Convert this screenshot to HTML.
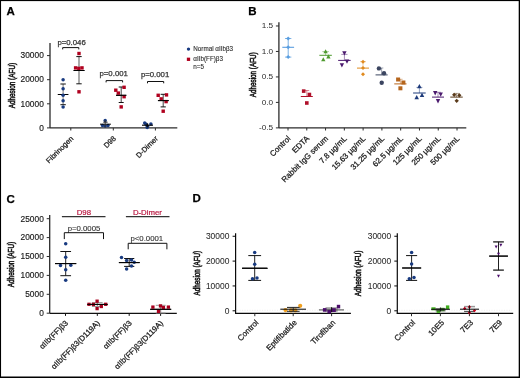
<!DOCTYPE html>
<html><head><meta charset="utf-8"><style>
html,body{margin:0;padding:0;background:#fff;}
body{width:520px;height:378px;overflow:hidden;}
svg{display:block;font-family:"Liberation Sans",sans-serif;will-change:transform;}
</style></head><body>
<svg width="520" height="378" viewBox="0 0 520 378">
<rect x="0" y="0" width="520" height="378" fill="#fff"/>
<text x="6.60" y="15.20" font-size="11.5" text-anchor="start" fill="#000" font-weight="bold" stroke="#000" stroke-width="0.25" >A</text>
<text x="248.30" y="15.00" font-size="11.5" text-anchor="start" fill="#000" font-weight="bold" stroke="#000" stroke-width="0.25" >B</text>
<text x="6.40" y="202.60" font-size="11.5" text-anchor="start" fill="#000" font-weight="bold" stroke="#000" stroke-width="0.25" >C</text>
<text x="192.40" y="202.40" font-size="11.5" text-anchor="start" fill="#000" font-weight="bold" stroke="#000" stroke-width="0.25" >D</text>
<line x1="50.00" y1="43.00" x2="50.00" y2="127.90" stroke="#2b2b2b" stroke-width="1.3" />
<line x1="47.00" y1="127.90" x2="50.00" y2="127.90" stroke="#2b2b2b" stroke-width="1.0" />
<text x="43.80" y="130.60" font-size="8.2" text-anchor="end" fill="#1a1a1a" font-weight="normal" stroke="#1a1a1a" stroke-width="0.15" textLength="4.65" lengthAdjust="spacingAndGlyphs" >0</text>
<line x1="47.00" y1="103.80" x2="50.00" y2="103.80" stroke="#2b2b2b" stroke-width="1.0" />
<text x="43.80" y="106.50" font-size="8.2" text-anchor="end" fill="#1a1a1a" font-weight="normal" stroke="#1a1a1a" stroke-width="0.15" textLength="23.25" lengthAdjust="spacingAndGlyphs" >10000</text>
<line x1="47.00" y1="79.70" x2="50.00" y2="79.70" stroke="#2b2b2b" stroke-width="1.0" />
<text x="43.80" y="82.40" font-size="8.2" text-anchor="end" fill="#1a1a1a" font-weight="normal" stroke="#1a1a1a" stroke-width="0.15" textLength="23.25" lengthAdjust="spacingAndGlyphs" >20000</text>
<line x1="47.00" y1="55.60" x2="50.00" y2="55.60" stroke="#2b2b2b" stroke-width="1.0" />
<text x="43.80" y="58.30" font-size="8.2" text-anchor="end" fill="#1a1a1a" font-weight="normal" stroke="#1a1a1a" stroke-width="0.15" textLength="23.25" lengthAdjust="spacingAndGlyphs" >30000</text>
<line x1="50.00" y1="127.90" x2="177.30" y2="127.90" stroke="#2b2b2b" stroke-width="1.3" />
<line x1="70.80" y1="127.90" x2="70.80" y2="130.50" stroke="#2b2b2b" stroke-width="1.0" />
<line x1="113.30" y1="127.90" x2="113.30" y2="130.50" stroke="#2b2b2b" stroke-width="1.0" />
<line x1="155.40" y1="127.90" x2="155.40" y2="130.50" stroke="#2b2b2b" stroke-width="1.0" />
<text x="0.00" y="0.00" font-size="8.6" text-anchor="middle" fill="#1a1a1a" font-weight="normal" stroke="#1a1a1a" stroke-width="0.6" textLength="45.5" lengthAdjust="spacingAndGlyphs" transform="translate(15.30,85.60) rotate(-90)" >Adhesion (AFU)</text>
<text x="0.00" y="0.00" font-size="7.4" text-anchor="end" fill="#1a1a1a" font-weight="normal" stroke="#1a1a1a" stroke-width="0.25" transform="translate(73.80,139.00) rotate(-45)" >Fibrinogen</text>
<text x="0.00" y="0.00" font-size="7.4" text-anchor="end" fill="#1a1a1a" font-weight="normal" stroke="#1a1a1a" stroke-width="0.25" transform="translate(116.30,139.00) rotate(-45)" >D98</text>
<text x="0.00" y="0.00" font-size="7.4" text-anchor="end" fill="#1a1a1a" font-weight="normal" stroke="#1a1a1a" stroke-width="0.25" transform="translate(158.40,139.00) rotate(-45)" >D-Dimer</text>
<text x="71.60" y="44.80" font-size="7.8" text-anchor="middle" fill="#333" font-weight="normal" stroke="#333" stroke-width="0.25" >p=0.046</text>
<polyline points="62.70,49.40 62.70,47.60 78.80,47.60 78.80,49.40" fill="none" stroke="#111" stroke-width="1.0"/>
<text x="113.70" y="75.70" font-size="7.8" text-anchor="middle" fill="#333" font-weight="normal" stroke="#333" stroke-width="0.25" >p=0.001</text>
<polyline points="106.10,82.40 106.10,80.60 122.60,80.60 122.60,82.40" fill="none" stroke="#111" stroke-width="1.0"/>
<text x="155.10" y="76.60" font-size="7.8" text-anchor="middle" fill="#333" font-weight="normal" stroke="#333" stroke-width="0.25" >p=0.001</text>
<polyline points="147.50,83.30 147.50,81.50 163.70,81.50 163.70,83.30" fill="none" stroke="#111" stroke-width="1.0"/>
<line x1="63.10" y1="84.00" x2="63.10" y2="104.70" stroke="#777" stroke-width="1.0" />
<line x1="60.40" y1="84.00" x2="65.80" y2="84.00" stroke="#111" stroke-width="1.0" />
<line x1="60.40" y1="104.70" x2="65.80" y2="104.70" stroke="#111" stroke-width="1.0" />
<line x1="57.75" y1="94.50" x2="68.45" y2="94.50" stroke="#000" stroke-width="1.0" />
<circle cx="63.10" cy="79.80" r="1.75" fill="#183a80"/>
<circle cx="63.10" cy="88.80" r="1.75" fill="#183a80"/>
<circle cx="63.10" cy="95.20" r="1.75" fill="#183a80"/>
<circle cx="63.10" cy="100.70" r="1.75" fill="#183a80"/>
<circle cx="63.10" cy="106.90" r="1.75" fill="#183a80"/>
<line x1="79.00" y1="56.60" x2="79.00" y2="83.80" stroke="#888" stroke-width="1.4" />
<line x1="76.30" y1="56.60" x2="81.70" y2="56.60" stroke="#111" stroke-width="1.0" />
<line x1="76.30" y1="83.80" x2="81.70" y2="83.80" stroke="#111" stroke-width="1.0" />
<line x1="73.60" y1="70.50" x2="84.40" y2="70.50" stroke="#000" stroke-width="1.0" />
<rect x="77.30" y="51.80" width="3.4" height="3.4" fill="#b0001e"/>
<rect x="73.90" y="66.20" width="3.4" height="3.4" fill="#b0001e"/>
<rect x="77.10" y="66.70" width="3.4" height="3.4" fill="#b0001e"/>
<rect x="80.30" y="66.20" width="3.4" height="3.4" fill="#b0001e"/>
<rect x="77.30" y="90.10" width="3.4" height="3.4" fill="#b0001e"/>
<line x1="73.70" y1="70.50" x2="84.50" y2="70.50" stroke="#000" stroke-width="1.0" />
<circle cx="105.20" cy="120.60" r="1.75" fill="#183a80"/>
<circle cx="102.50" cy="125.60" r="1.75" fill="#183a80"/>
<circle cx="105.20" cy="126.00" r="1.75" fill="#183a80"/>
<circle cx="108.00" cy="125.60" r="1.75" fill="#183a80"/>
<line x1="103.30" y1="122.20" x2="107.60" y2="122.20" stroke="#111" stroke-width="0.9" />
<line x1="100.00" y1="124.20" x2="110.90" y2="124.20" stroke="#000" stroke-width="1.0" />
<line x1="105.20" y1="120.00" x2="105.20" y2="127.50" stroke="#333" stroke-width="0.9" />
<line x1="121.20" y1="87.00" x2="121.20" y2="102.50" stroke="#444" stroke-width="1.0" />
<line x1="118.70" y1="87.00" x2="123.70" y2="87.00" stroke="#111" stroke-width="1.0" />
<line x1="118.70" y1="102.50" x2="123.70" y2="102.50" stroke="#111" stroke-width="1.0" />
<line x1="116.10" y1="95.30" x2="126.30" y2="95.30" stroke="#000" stroke-width="1.0" />
<rect x="114.10" y="88.50" width="3.4" height="3.4" fill="#b0001e"/>
<rect x="116.60" y="91.40" width="3.4" height="3.4" fill="#b0001e"/>
<rect x="122.40" y="85.60" width="3.4" height="3.4" fill="#b0001e"/>
<rect x="122.40" y="95.00" width="3.4" height="3.4" fill="#b0001e"/>
<rect x="119.50" y="105.20" width="3.4" height="3.4" fill="#b0001e"/>
<line x1="116.10" y1="95.30" x2="126.30" y2="95.30" stroke="#000" stroke-width="1.0" />
<circle cx="144.70" cy="122.90" r="1.75" fill="#183a80"/>
<circle cx="146.20" cy="124.20" r="1.75" fill="#183a80"/>
<circle cx="150.90" cy="124.00" r="1.75" fill="#183a80"/>
<circle cx="147.50" cy="126.30" r="1.75" fill="#183a80"/>
<circle cx="147.20" cy="127.60" r="1.75" fill="#183a80"/>
<line x1="147.40" y1="123.50" x2="147.40" y2="127.50" stroke="#111" stroke-width="1.6" />
<line x1="142.00" y1="125.20" x2="153.00" y2="125.20" stroke="#000" stroke-width="1.1" />
<line x1="163.20" y1="94.30" x2="163.20" y2="106.90" stroke="#444" stroke-width="1.0" />
<line x1="160.60" y1="94.30" x2="165.80" y2="94.30" stroke="#111" stroke-width="1.0" />
<line x1="160.60" y1="106.90" x2="165.80" y2="106.90" stroke="#111" stroke-width="1.0" />
<line x1="157.90" y1="100.60" x2="168.50" y2="100.60" stroke="#000" stroke-width="1.0" />
<rect x="156.50" y="93.60" width="3.4" height="3.4" fill="#b0001e"/>
<rect x="164.80" y="93.20" width="3.4" height="3.4" fill="#b0001e"/>
<rect x="159.50" y="97.20" width="3.4" height="3.4" fill="#b0001e"/>
<rect x="164.40" y="99.90" width="3.4" height="3.4" fill="#b0001e"/>
<rect x="161.50" y="109.50" width="3.4" height="3.4" fill="#b0001e"/>
<line x1="158.20" y1="100.60" x2="168.80" y2="100.60" stroke="#000" stroke-width="1.0" />
<circle cx="188.50" cy="49.10" r="1.7" fill="#183a80"/>
<rect x="186.85" y="57.65" width="3.3" height="3.3" fill="#b0001e"/>
<text x="193.30" y="50.90" font-size="6.3" text-anchor="start" fill="#2a2a2a" font-weight="normal" stroke="#2a2a2a" stroke-width="0.1" >Normal &#945;IIb&#946;3</text>
<text x="193.30" y="61.00" font-size="6.3" text-anchor="start" fill="#2a2a2a" font-weight="normal" stroke="#2a2a2a" stroke-width="0.1" >&#945;IIb(FF)&#946;3</text>
<text x="193.30" y="68.90" font-size="6.3" text-anchor="start" fill="#2a2a2a" font-weight="normal" stroke="#2a2a2a" stroke-width="0.1" >n=5</text>
<line x1="278.90" y1="22.20" x2="278.90" y2="127.90" stroke="#2b2b2b" stroke-width="1.3" />
<line x1="275.90" y1="25.97" x2="278.90" y2="25.97" stroke="#2b2b2b" stroke-width="1.0" />
<text x="273.10" y="28.37" font-size="7.6" text-anchor="end" fill="#2a2a2a" font-weight="normal" textLength="11.41" lengthAdjust="spacingAndGlyphs" >1.5</text>
<line x1="275.90" y1="51.45" x2="278.90" y2="51.45" stroke="#2b2b2b" stroke-width="1.0" />
<text x="273.10" y="53.85" font-size="7.6" text-anchor="end" fill="#2a2a2a" font-weight="normal" textLength="11.41" lengthAdjust="spacingAndGlyphs" >1.0</text>
<line x1="275.90" y1="76.93" x2="278.90" y2="76.93" stroke="#2b2b2b" stroke-width="1.0" />
<text x="273.10" y="79.33" font-size="7.6" text-anchor="end" fill="#2a2a2a" font-weight="normal" textLength="11.41" lengthAdjust="spacingAndGlyphs" >0.5</text>
<line x1="275.90" y1="102.40" x2="278.90" y2="102.40" stroke="#2b2b2b" stroke-width="1.0" />
<text x="273.10" y="104.80" font-size="7.6" text-anchor="end" fill="#2a2a2a" font-weight="normal" textLength="11.41" lengthAdjust="spacingAndGlyphs" >0.0</text>
<line x1="275.90" y1="127.88" x2="278.90" y2="127.88" stroke="#2b2b2b" stroke-width="1.0" />
<text x="273.10" y="130.28" font-size="7.6" text-anchor="end" fill="#2a2a2a" font-weight="normal" textLength="14.14" lengthAdjust="spacingAndGlyphs" >-0.5</text>
<line x1="278.90" y1="127.90" x2="466.30" y2="127.90" stroke="#2b2b2b" stroke-width="1.3" />
<line x1="288.00" y1="127.90" x2="288.00" y2="130.50" stroke="#2b2b2b" stroke-width="1.0" />
<line x1="306.78" y1="127.90" x2="306.78" y2="130.50" stroke="#2b2b2b" stroke-width="1.0" />
<line x1="325.56" y1="127.90" x2="325.56" y2="130.50" stroke="#2b2b2b" stroke-width="1.0" />
<line x1="344.34" y1="127.90" x2="344.34" y2="130.50" stroke="#2b2b2b" stroke-width="1.0" />
<line x1="363.12" y1="127.90" x2="363.12" y2="130.50" stroke="#2b2b2b" stroke-width="1.0" />
<line x1="381.90" y1="127.90" x2="381.90" y2="130.50" stroke="#2b2b2b" stroke-width="1.0" />
<line x1="400.68" y1="127.90" x2="400.68" y2="130.50" stroke="#2b2b2b" stroke-width="1.0" />
<line x1="419.46" y1="127.90" x2="419.46" y2="130.50" stroke="#2b2b2b" stroke-width="1.0" />
<line x1="438.24" y1="127.90" x2="438.24" y2="130.50" stroke="#2b2b2b" stroke-width="1.0" />
<line x1="457.02" y1="127.90" x2="457.02" y2="130.50" stroke="#2b2b2b" stroke-width="1.0" />
<text x="0.00" y="0.00" font-size="8.6" text-anchor="middle" fill="#1a1a1a" font-weight="normal" stroke="#1a1a1a" stroke-width="0.6" textLength="45" lengthAdjust="spacingAndGlyphs" transform="translate(256.00,74.80) rotate(-90)" >Adhesion (AFU)</text>
<text x="0.00" y="0.00" font-size="7.9" text-anchor="end" fill="#1a1a1a" font-weight="normal" stroke="#1a1a1a" stroke-width="0.25" transform="translate(291.00,139.10) rotate(-45)" >Control</text>
<text x="0.00" y="0.00" font-size="7.9" text-anchor="end" fill="#1a1a1a" font-weight="normal" stroke="#1a1a1a" stroke-width="0.25" transform="translate(309.78,139.10) rotate(-45)" >EDTA</text>
<text x="0.00" y="0.00" font-size="7.9" text-anchor="end" fill="#1a1a1a" font-weight="normal" stroke="#1a1a1a" stroke-width="0.25" transform="translate(328.56,139.10) rotate(-45)" >Rabbit IgG serum</text>
<text x="0.00" y="0.00" font-size="7.9" text-anchor="end" fill="#1a1a1a" font-weight="normal" stroke="#1a1a1a" stroke-width="0.25" transform="translate(347.34,139.10) rotate(-45)" >7.8 &#181;g/mL</text>
<text x="0.00" y="0.00" font-size="7.9" text-anchor="end" fill="#1a1a1a" font-weight="normal" stroke="#1a1a1a" stroke-width="0.25" transform="translate(366.12,139.10) rotate(-45)" >15.63 &#181;g/mL</text>
<text x="0.00" y="0.00" font-size="7.9" text-anchor="end" fill="#1a1a1a" font-weight="normal" stroke="#1a1a1a" stroke-width="0.25" transform="translate(384.90,139.10) rotate(-45)" >31.25 &#181;g/mL</text>
<text x="0.00" y="0.00" font-size="7.9" text-anchor="end" fill="#1a1a1a" font-weight="normal" stroke="#1a1a1a" stroke-width="0.25" transform="translate(403.68,139.10) rotate(-45)" >62.5 &#181;g/mL</text>
<text x="0.00" y="0.00" font-size="7.9" text-anchor="end" fill="#1a1a1a" font-weight="normal" stroke="#1a1a1a" stroke-width="0.25" transform="translate(422.46,139.10) rotate(-45)" >125 &#181;g/mL</text>
<text x="0.00" y="0.00" font-size="7.9" text-anchor="end" fill="#1a1a1a" font-weight="normal" stroke="#1a1a1a" stroke-width="0.25" transform="translate(441.24,139.10) rotate(-45)" >250 &#181;g/mL</text>
<text x="0.00" y="0.00" font-size="7.9" text-anchor="end" fill="#1a1a1a" font-weight="normal" stroke="#1a1a1a" stroke-width="0.25" transform="translate(460.02,139.10) rotate(-45)" >500 &#181;g/mL</text>
<line x1="288.20" y1="38.50" x2="288.20" y2="57.10" stroke="#5a9ee0" stroke-width="1.0" stroke-opacity="0.8"/>
<line x1="285.05" y1="38.50" x2="291.35" y2="38.50" stroke="#5a9ee0" stroke-width="1.0" stroke-opacity="0.8"/>
<line x1="285.05" y1="57.10" x2="291.35" y2="57.10" stroke="#5a9ee0" stroke-width="1.0" stroke-opacity="0.8"/>
<line x1="282.30" y1="47.30" x2="294.10" y2="47.30" stroke="#5a9ee0" stroke-width="1.1" />
<polygon points="288.20,36.50 290.20,38.50 288.20,40.50 286.20,38.50" fill="#5a9ee0"/>
<polygon points="288.20,45.30 290.20,47.30 288.20,49.30 286.20,47.30" fill="#5a9ee0"/>
<polygon points="288.20,55.10 290.20,57.10 288.20,59.10 286.20,57.10" fill="#5a9ee0"/>
<line x1="306.80" y1="90.50" x2="306.80" y2="96.50" stroke="#b0102a" stroke-width="0.9" stroke-opacity="0.55"/>
<line x1="304.40" y1="90.50" x2="309.20" y2="90.50" stroke="#b0102a" stroke-width="0.9" stroke-opacity="0.55"/>
<line x1="300.80" y1="96.50" x2="312.80" y2="96.50" stroke="#b0102a" stroke-width="1.0" />
<rect x="301.90" y="89.30" width="3.6" height="3.6" fill="#b0102a"/>
<rect x="307.60" y="92.70" width="3.6" height="3.6" fill="#b0102a"/>
<rect x="305.00" y="101.20" width="3.6" height="3.6" fill="#b0102a"/>
<line x1="325.60" y1="51.60" x2="325.60" y2="55.30" stroke="#4e9a2e" stroke-width="0.9" stroke-opacity="0.55"/>
<line x1="322.35" y1="51.60" x2="328.85" y2="51.60" stroke="#4e9a2e" stroke-width="0.9" stroke-opacity="0.55"/>
<line x1="319.35" y1="55.30" x2="331.85" y2="55.30" stroke="#4e9a2e" stroke-width="1.0" />
<polygon points="325.60,49.16 323.45,53.34 327.75,53.34" fill="#4e9a2e"/>
<polygon points="328.40,54.27 326.25,58.44 330.55,58.44" fill="#4e9a2e"/>
<polygon points="323.30,57.16 321.15,61.34 325.45,61.34" fill="#4e9a2e"/>
<line x1="344.40" y1="54.40" x2="344.40" y2="60.40" stroke="#4b1a6e" stroke-width="0.9" stroke-opacity="0.55"/>
<line x1="341.30" y1="54.40" x2="347.50" y2="54.40" stroke="#4b1a6e" stroke-width="0.9" stroke-opacity="0.55"/>
<line x1="338.15" y1="60.40" x2="350.65" y2="60.40" stroke="#4b1a6e" stroke-width="1.0" />
<polygon points="344.40,55.58 342.20,51.32 346.60,51.32" fill="#4b1a6e"/>
<polygon points="347.00,63.78 344.80,59.52 349.20,59.52" fill="#4b1a6e"/>
<polygon points="341.90,67.48 339.70,63.22 344.10,63.22" fill="#4b1a6e"/>
<line x1="363.00" y1="61.70" x2="363.00" y2="68.10" stroke="#e08a1e" stroke-width="0.9" stroke-opacity="0.55"/>
<line x1="360.00" y1="61.70" x2="366.00" y2="61.70" stroke="#e08a1e" stroke-width="0.9" stroke-opacity="0.55"/>
<line x1="357.00" y1="68.10" x2="369.00" y2="68.10" stroke="#e08a1e" stroke-width="1.0" />
<polygon points="363.00,59.70 365.00,61.70 363.00,63.70 361.00,61.70" fill="#e08a1e"/>
<polygon points="363.00,66.10 365.00,68.10 363.00,70.10 361.00,68.10" fill="#e08a1e"/>
<polygon points="363.00,72.20 365.00,74.20 363.00,76.20 361.00,74.20" fill="#e08a1e"/>
<line x1="381.60" y1="68.00" x2="381.60" y2="74.90" stroke="#3b4560" stroke-width="0.9" stroke-opacity="0.55"/>
<line x1="379.85" y1="68.00" x2="383.35" y2="68.00" stroke="#3b4560" stroke-width="0.9" stroke-opacity="0.55"/>
<line x1="375.55" y1="74.90" x2="387.65" y2="74.90" stroke="#3b4560" stroke-width="1.0" />
<circle cx="378.90" cy="68.40" r="2.2" fill="#3b4560"/>
<circle cx="384.00" cy="73.30" r="2.2" fill="#3b4560"/>
<circle cx="381.70" cy="82.80" r="2.2" fill="#3b4560"/>
<line x1="400.40" y1="79.30" x2="400.40" y2="83.90" stroke="#b5651d" stroke-width="0.9" stroke-opacity="0.55"/>
<line x1="398.20" y1="79.30" x2="402.60" y2="79.30" stroke="#b5651d" stroke-width="0.9" stroke-opacity="0.55"/>
<line x1="394.25" y1="83.90" x2="406.55" y2="83.90" stroke="#b5651d" stroke-width="1.0" />
<rect x="396.10" y="77.50" width="4.0" height="4.0" fill="#b5651d"/>
<rect x="401.40" y="80.50" width="4.0" height="4.0" fill="#b5651d"/>
<rect x="398.40" y="86.30" width="4.0" height="4.0" fill="#b5651d"/>
<line x1="419.40" y1="87.40" x2="419.40" y2="93.00" stroke="#1d3a7a" stroke-width="0.9" stroke-opacity="0.55"/>
<line x1="416.40" y1="87.40" x2="422.40" y2="87.40" stroke="#1d3a7a" stroke-width="0.9" stroke-opacity="0.55"/>
<line x1="413.10" y1="93.00" x2="425.70" y2="93.00" stroke="#1d3a7a" stroke-width="1.0" />
<polygon points="419.40,83.88 417.15,88.23 421.65,88.23" fill="#1d3a7a"/>
<polygon points="422.00,92.67 419.75,97.03 424.25,97.03" fill="#1d3a7a"/>
<polygon points="416.70,94.97 414.45,99.33 418.95,99.33" fill="#1d3a7a"/>
<line x1="438.00" y1="92.30" x2="438.00" y2="97.10" stroke="#4b1a6e" stroke-width="0.9" stroke-opacity="0.55"/>
<line x1="435.00" y1="92.30" x2="441.00" y2="92.30" stroke="#4b1a6e" stroke-width="0.9" stroke-opacity="0.55"/>
<line x1="432.00" y1="97.10" x2="444.00" y2="97.10" stroke="#4b1a6e" stroke-width="1.0" />
<polygon points="435.20,95.38 433.00,91.12 437.40,91.12" fill="#4b1a6e"/>
<polygon points="440.70,96.68 438.50,92.42 442.90,92.42" fill="#4b1a6e"/>
<polygon points="438.00,103.38 435.80,99.12 440.20,99.12" fill="#4b1a6e"/>
<line x1="456.50" y1="93.40" x2="456.50" y2="97.10" stroke="#5a3a1a" stroke-width="0.9" stroke-opacity="0.55"/>
<line x1="453.50" y1="93.40" x2="459.50" y2="93.40" stroke="#5a3a1a" stroke-width="0.9" stroke-opacity="0.55"/>
<line x1="450.25" y1="97.10" x2="462.75" y2="97.10" stroke="#5a3a1a" stroke-width="1.0" />
<polygon points="454.20,92.65 456.35,94.80 454.20,96.95 452.05,94.80" fill="#5a3a1a"/>
<polygon points="459.30,93.15 461.45,95.30 459.30,97.45 457.15,95.30" fill="#5a3a1a"/>
<polygon points="456.70,98.65 458.85,100.80 456.70,102.95 454.55,100.80" fill="#5a3a1a"/>
<line x1="49.70" y1="215.00" x2="49.70" y2="313.20" stroke="#2b2b2b" stroke-width="1.3" />
<line x1="46.70" y1="313.20" x2="49.70" y2="313.20" stroke="#2b2b2b" stroke-width="1.0" />
<text x="43.80" y="316.00" font-size="8.2" text-anchor="end" fill="#1a1a1a" font-weight="normal" stroke="#1a1a1a" stroke-width="0.15" textLength="4.65" lengthAdjust="spacingAndGlyphs" >0</text>
<line x1="46.70" y1="294.30" x2="49.70" y2="294.30" stroke="#2b2b2b" stroke-width="1.0" />
<text x="43.80" y="297.10" font-size="8.2" text-anchor="end" fill="#1a1a1a" font-weight="normal" stroke="#1a1a1a" stroke-width="0.15" textLength="18.6" lengthAdjust="spacingAndGlyphs" >5000</text>
<line x1="46.70" y1="275.40" x2="49.70" y2="275.40" stroke="#2b2b2b" stroke-width="1.0" />
<text x="43.80" y="278.20" font-size="8.2" text-anchor="end" fill="#1a1a1a" font-weight="normal" stroke="#1a1a1a" stroke-width="0.15" textLength="23.25" lengthAdjust="spacingAndGlyphs" >10000</text>
<line x1="46.70" y1="256.50" x2="49.70" y2="256.50" stroke="#2b2b2b" stroke-width="1.0" />
<text x="43.80" y="259.30" font-size="8.2" text-anchor="end" fill="#1a1a1a" font-weight="normal" stroke="#1a1a1a" stroke-width="0.15" textLength="23.25" lengthAdjust="spacingAndGlyphs" >15000</text>
<line x1="46.70" y1="237.60" x2="49.70" y2="237.60" stroke="#2b2b2b" stroke-width="1.0" />
<text x="43.80" y="240.40" font-size="8.2" text-anchor="end" fill="#1a1a1a" font-weight="normal" stroke="#1a1a1a" stroke-width="0.15" textLength="23.25" lengthAdjust="spacingAndGlyphs" >20000</text>
<line x1="46.70" y1="218.70" x2="49.70" y2="218.70" stroke="#2b2b2b" stroke-width="1.0" />
<text x="43.80" y="221.50" font-size="8.2" text-anchor="end" fill="#1a1a1a" font-weight="normal" stroke="#1a1a1a" stroke-width="0.15" textLength="23.25" lengthAdjust="spacingAndGlyphs" >25000</text>
<line x1="49.70" y1="313.30" x2="176.80" y2="313.30" stroke="#111" stroke-width="1.15" />
<line x1="65.50" y1="313.30" x2="65.50" y2="315.90" stroke="#111" stroke-width="1.0" />
<line x1="97.30" y1="313.30" x2="97.30" y2="315.90" stroke="#111" stroke-width="1.0" />
<line x1="129.20" y1="313.30" x2="129.20" y2="315.90" stroke="#111" stroke-width="1.0" />
<line x1="160.60" y1="313.30" x2="160.60" y2="315.90" stroke="#111" stroke-width="1.0" />
<text x="0.00" y="0.00" font-size="8.6" text-anchor="middle" fill="#1a1a1a" font-weight="normal" stroke="#1a1a1a" stroke-width="0.6" textLength="45.5" lengthAdjust="spacingAndGlyphs" transform="translate(13.70,264.50) rotate(-90)" >Adhesion (AFU)</text>
<text x="0.00" y="0.00" font-size="7.8" text-anchor="end" fill="#1a1a1a" font-weight="normal" stroke="#1a1a1a" stroke-width="0.25" transform="translate(68.50,323.60) rotate(-45)" >&#945;IIb(FF)&#946;3</text>
<text x="0.00" y="0.00" font-size="7.8" text-anchor="end" fill="#1a1a1a" font-weight="normal" stroke="#1a1a1a" stroke-width="0.25" transform="translate(100.30,323.60) rotate(-45)" >&#945;IIb(FF)&#946;3(D119A)</text>
<text x="0.00" y="0.00" font-size="7.8" text-anchor="end" fill="#1a1a1a" font-weight="normal" stroke="#1a1a1a" stroke-width="0.25" transform="translate(132.20,323.60) rotate(-45)" >&#945;IIb(FF)&#946;3</text>
<text x="0.00" y="0.00" font-size="7.8" text-anchor="end" fill="#1a1a1a" font-weight="normal" stroke="#1a1a1a" stroke-width="0.25" transform="translate(163.60,323.60) rotate(-45)" >&#945;IIb(FF)&#946;3(D119A)</text>
<text x="83.90" y="214.90" font-size="7.8" text-anchor="middle" fill="#b8143e" font-weight="normal" stroke="#b8143e" stroke-width="0.2" >D98</text>
<line x1="61.90" y1="216.60" x2="105.50" y2="216.60" stroke="#333" stroke-width="1.1" />
<text x="147.40" y="214.90" font-size="7.8" text-anchor="middle" fill="#b8143e" font-weight="normal" stroke="#b8143e" stroke-width="0.2" >D-Dimer</text>
<line x1="125.90" y1="216.60" x2="169.50" y2="216.60" stroke="#333" stroke-width="1.1" />
<text x="84.00" y="231.40" font-size="7.8" text-anchor="middle" fill="#333" font-weight="normal" stroke="#333" stroke-width="0.12" >p=0.0005</text>
<polyline points="64.30,239.10 64.30,232.70 103.50,232.70 103.50,239.10" fill="none" stroke="#111" stroke-width="1.0"/>
<text x="146.80" y="241.30" font-size="7.8" text-anchor="middle" fill="#333" font-weight="normal" stroke="#333" stroke-width="0.12" >p&lt;0.0001</text>
<polyline points="128.20,249.30 128.20,243.30 166.90,243.30 166.90,249.30" fill="none" stroke="#111" stroke-width="1.0"/>
<line x1="65.70" y1="251.50" x2="65.70" y2="275.70" stroke="#222" stroke-width="1.0" />
<line x1="60.35" y1="251.50" x2="71.05" y2="251.50" stroke="#111" stroke-width="1.0" />
<line x1="60.35" y1="275.70" x2="71.05" y2="275.70" stroke="#111" stroke-width="1.0" />
<line x1="55.10" y1="263.60" x2="76.30" y2="263.60" stroke="#000" stroke-width="1.0" />
<circle cx="65.70" cy="243.80" r="1.75" fill="#183a80"/>
<circle cx="65.70" cy="257.30" r="1.75" fill="#183a80"/>
<circle cx="60.50" cy="265.60" r="1.75" fill="#183a80"/>
<circle cx="70.80" cy="265.20" r="1.75" fill="#183a80"/>
<circle cx="65.70" cy="269.80" r="1.75" fill="#183a80"/>
<circle cx="65.70" cy="280.20" r="1.75" fill="#183a80"/>
<line x1="55.00" y1="263.60" x2="76.20" y2="263.60" stroke="#000" stroke-width="1.0" />
<line x1="97.30" y1="302.60" x2="97.30" y2="306.50" stroke="#888" stroke-width="1.0" />
<line x1="91.95" y1="302.60" x2="102.65" y2="302.60" stroke="#999" stroke-width="1.0" />
<line x1="91.95" y1="306.50" x2="102.65" y2="306.50" stroke="#999" stroke-width="1.0" />
<line x1="87.10" y1="304.40" x2="107.50" y2="304.40" stroke="#000" stroke-width="1.0" />
<rect x="87.35" y="302.65" width="3.3" height="3.3" fill="#a8001e"/>
<rect x="91.75" y="302.75" width="3.3" height="3.3" fill="#a8001e"/>
<rect x="95.45" y="299.55" width="3.3" height="3.3" fill="#a8001e"/>
<rect x="99.65" y="304.85" width="3.3" height="3.3" fill="#a8001e"/>
<rect x="104.05" y="302.65" width="3.3" height="3.3" fill="#a8001e"/>
<rect x="95.45" y="306.95" width="3.3" height="3.3" fill="#a8001e"/>
<line x1="87.40" y1="304.40" x2="107.80" y2="304.40" stroke="#000" stroke-width="1.0" />
<line x1="129.20" y1="258.50" x2="129.20" y2="266.40" stroke="#222" stroke-width="1.0" />
<line x1="124.10" y1="258.50" x2="134.30" y2="258.50" stroke="#111" stroke-width="1.0" />
<line x1="124.10" y1="266.40" x2="134.30" y2="266.40" stroke="#111" stroke-width="1.0" />
<line x1="118.80" y1="262.60" x2="139.60" y2="262.60" stroke="#000" stroke-width="1.0" />
<circle cx="121.50" cy="257.60" r="1.75" fill="#183a80"/>
<circle cx="126.60" cy="260.60" r="1.75" fill="#183a80"/>
<circle cx="131.50" cy="259.90" r="1.75" fill="#183a80"/>
<circle cx="134.20" cy="262.20" r="1.75" fill="#183a80"/>
<circle cx="131.50" cy="265.90" r="1.75" fill="#183a80"/>
<circle cx="126.60" cy="269.00" r="1.75" fill="#183a80"/>
<line x1="119.00" y1="262.60" x2="139.80" y2="262.60" stroke="#000" stroke-width="1.0" />
<line x1="160.70" y1="305.30" x2="160.70" y2="313.00" stroke="#888" stroke-width="1.0" />
<line x1="155.75" y1="305.30" x2="165.65" y2="305.30" stroke="#999" stroke-width="1.0" />
<line x1="155.75" y1="313.00" x2="165.65" y2="313.00" stroke="#999" stroke-width="1.0" />
<line x1="150.20" y1="309.30" x2="171.20" y2="309.30" stroke="#000" stroke-width="1.0" />
<rect x="151.25" y="305.45" width="3.3" height="3.3" fill="#a8001e"/>
<rect x="158.85" y="304.25" width="3.3" height="3.3" fill="#a8001e"/>
<rect x="161.75" y="305.85" width="3.3" height="3.3" fill="#a8001e"/>
<rect x="166.75" y="305.45" width="3.3" height="3.3" fill="#a8001e"/>
<rect x="156.85" y="309.75" width="3.3" height="3.3" fill="#a8001e"/>
<line x1="150.20" y1="309.30" x2="171.20" y2="309.30" stroke="#000" stroke-width="1.0" />
<line x1="235.60" y1="233.20" x2="235.60" y2="313.40" stroke="#0a0a0a" stroke-width="1.2" />
<line x1="232.60" y1="310.80" x2="235.60" y2="310.80" stroke="#0a0a0a" stroke-width="1.0" />
<text x="229.40" y="313.60" font-size="8.2" text-anchor="end" fill="#2a2a2a" font-weight="normal" stroke="#2a2a2a" stroke-width="0.05" textLength="4.7" lengthAdjust="spacingAndGlyphs" >0</text>
<line x1="232.60" y1="285.95" x2="235.60" y2="285.95" stroke="#0a0a0a" stroke-width="1.0" />
<text x="229.40" y="288.75" font-size="8.2" text-anchor="end" fill="#2a2a2a" font-weight="normal" stroke="#2a2a2a" stroke-width="0.05" textLength="23.48" lengthAdjust="spacingAndGlyphs" >10000</text>
<line x1="232.60" y1="261.10" x2="235.60" y2="261.10" stroke="#0a0a0a" stroke-width="1.0" />
<text x="229.40" y="263.90" font-size="8.2" text-anchor="end" fill="#2a2a2a" font-weight="normal" stroke="#2a2a2a" stroke-width="0.05" textLength="23.48" lengthAdjust="spacingAndGlyphs" >20000</text>
<line x1="232.60" y1="236.25" x2="235.60" y2="236.25" stroke="#0a0a0a" stroke-width="1.0" />
<text x="229.40" y="239.05" font-size="8.2" text-anchor="end" fill="#2a2a2a" font-weight="normal" stroke="#2a2a2a" stroke-width="0.05" textLength="23.48" lengthAdjust="spacingAndGlyphs" >30000</text>
<line x1="235.00" y1="313.30" x2="350.90" y2="313.30" stroke="#0a0a0a" stroke-width="1.2" />
<line x1="254.80" y1="313.40" x2="254.80" y2="316.20" stroke="#2b2b2b" stroke-width="1.0" />
<line x1="293.20" y1="313.40" x2="293.20" y2="316.20" stroke="#2b2b2b" stroke-width="1.0" />
<line x1="331.60" y1="313.40" x2="331.60" y2="316.20" stroke="#2b2b2b" stroke-width="1.0" />
<line x1="237" y1="310.3" x2="350" y2="310.3" stroke="#e4e4e4" stroke-width="0.6" stroke-dasharray="1,1.5"/>
<text x="0.00" y="0.00" font-size="8.6" text-anchor="middle" fill="#1a1a1a" font-weight="normal" stroke="#1a1a1a" stroke-width="0.6" textLength="44.6" lengthAdjust="spacingAndGlyphs" transform="translate(199.80,273.10) rotate(-90)" >Adhesion (AFU)</text>
<text x="0.00" y="0.00" font-size="8.0" text-anchor="end" fill="#1a1a1a" font-weight="normal" stroke="#1a1a1a" stroke-width="0.25" transform="translate(259.00,323.20) rotate(-45)" >Control</text>
<text x="0.00" y="0.00" font-size="8.0" text-anchor="end" fill="#1a1a1a" font-weight="normal" stroke="#1a1a1a" stroke-width="0.25" transform="translate(297.40,323.20) rotate(-45)" >Eptifibatide</text>
<text x="0.00" y="0.00" font-size="8.0" text-anchor="end" fill="#1a1a1a" font-weight="normal" stroke="#1a1a1a" stroke-width="0.25" transform="translate(335.80,323.20) rotate(-45)" >Tirofiban</text>
<line x1="254.70" y1="255.60" x2="254.70" y2="280.40" stroke="#222" stroke-width="1.0" />
<line x1="248.30" y1="255.60" x2="261.10" y2="255.60" stroke="#111" stroke-width="1.0" />
<line x1="248.30" y1="280.40" x2="261.10" y2="280.40" stroke="#111" stroke-width="1.0" />
<line x1="242.15" y1="268.10" x2="267.25" y2="268.10" stroke="#000" stroke-width="1.0" />
<circle cx="254.70" cy="252.40" r="1.75" fill="#183a80"/>
<circle cx="254.70" cy="264.30" r="1.75" fill="#183a80"/>
<circle cx="252.50" cy="278.70" r="1.75" fill="#183a80"/>
<circle cx="257.00" cy="278.00" r="1.75" fill="#183a80"/>
<line x1="242.00" y1="268.35" x2="267.70" y2="268.35" stroke="#000" stroke-width="1.05" />
<circle cx="285.50" cy="310.10" r="2.1" fill="#f0a020"/>
<circle cx="291.00" cy="310.40" r="2.1" fill="#f0a020"/>
<circle cx="295.30" cy="310.40" r="2.1" fill="#f0a020"/>
<circle cx="300.20" cy="305.80" r="2.1" fill="#f0a020"/>
<line x1="293.20" y1="307.40" x2="293.20" y2="311.30" stroke="#333" stroke-width="1.0" />
<line x1="287.00" y1="307.40" x2="299.60" y2="307.40" stroke="#222" stroke-width="1.0" />
<line x1="287.00" y1="311.30" x2="299.60" y2="311.30" stroke="#222" stroke-width="1.0" />
<line x1="280.30" y1="309.20" x2="306.00" y2="309.20" stroke="#000" stroke-width="1.0" />
<rect x="325.5" y="307.2" width="12.1" height="4.6" fill="#a0a0a0"/>
<line x1="318.90" y1="309.90" x2="344.00" y2="309.90" stroke="#555" stroke-width="1.1" />
<rect x="322.90" y="308.10" width="3.6" height="3.6" fill="#4b0e6b"/>
<rect x="327.40" y="309.90" width="3.8" height="3.4" fill="#4b0e6b"/>
<rect x="331.40" y="308.20" width="4.4" height="3.8" fill="#4b0e6b"/>
<rect x="336.80" y="304.80" width="3.4" height="3.6" fill="#4b0e6b"/>
<line x1="331.60" y1="307.20" x2="331.60" y2="312.00" stroke="#111" stroke-width="1.0" />
<line x1="397.30" y1="233.20" x2="397.30" y2="313.40" stroke="#0a0a0a" stroke-width="1.2" />
<line x1="394.30" y1="310.80" x2="397.30" y2="310.80" stroke="#0a0a0a" stroke-width="1.0" />
<text x="391.20" y="313.60" font-size="8.2" text-anchor="end" fill="#2a2a2a" font-weight="normal" stroke="#2a2a2a" stroke-width="0.05" textLength="4.7" lengthAdjust="spacingAndGlyphs" >0</text>
<line x1="394.30" y1="285.95" x2="397.30" y2="285.95" stroke="#0a0a0a" stroke-width="1.0" />
<text x="391.20" y="288.75" font-size="8.2" text-anchor="end" fill="#2a2a2a" font-weight="normal" stroke="#2a2a2a" stroke-width="0.05" textLength="23.48" lengthAdjust="spacingAndGlyphs" >10000</text>
<line x1="394.30" y1="261.10" x2="397.30" y2="261.10" stroke="#0a0a0a" stroke-width="1.0" />
<text x="391.20" y="263.90" font-size="8.2" text-anchor="end" fill="#2a2a2a" font-weight="normal" stroke="#2a2a2a" stroke-width="0.05" textLength="23.48" lengthAdjust="spacingAndGlyphs" >20000</text>
<line x1="394.30" y1="236.25" x2="397.30" y2="236.25" stroke="#0a0a0a" stroke-width="1.0" />
<text x="391.20" y="239.05" font-size="8.2" text-anchor="end" fill="#2a2a2a" font-weight="normal" stroke="#2a2a2a" stroke-width="0.05" textLength="23.48" lengthAdjust="spacingAndGlyphs" >30000</text>
<line x1="396.70" y1="313.30" x2="513.20" y2="313.30" stroke="#0a0a0a" stroke-width="1.2" />
<line x1="411.50" y1="313.40" x2="411.50" y2="316.20" stroke="#2b2b2b" stroke-width="1.0" />
<line x1="440.40" y1="313.40" x2="440.40" y2="316.20" stroke="#2b2b2b" stroke-width="1.0" />
<line x1="469.40" y1="313.40" x2="469.40" y2="316.20" stroke="#2b2b2b" stroke-width="1.0" />
<line x1="498.50" y1="313.40" x2="498.50" y2="316.20" stroke="#2b2b2b" stroke-width="1.0" />
<line x1="399" y1="310.3" x2="512" y2="310.3" stroke="#e4e4e4" stroke-width="0.6" stroke-dasharray="1,1.5"/>
<text x="0.00" y="0.00" font-size="8.6" text-anchor="middle" fill="#1a1a1a" font-weight="normal" stroke="#1a1a1a" stroke-width="0.6" textLength="45.7" lengthAdjust="spacingAndGlyphs" transform="translate(360.80,273.40) rotate(-90)" >Adhesion (AFU)</text>
<text x="0.00" y="0.00" font-size="8.0" text-anchor="end" fill="#1a1a1a" font-weight="normal" stroke="#1a1a1a" stroke-width="0.25" transform="translate(415.70,323.20) rotate(-45)" >Control</text>
<text x="0.00" y="0.00" font-size="8.0" text-anchor="end" fill="#1a1a1a" font-weight="normal" stroke="#1a1a1a" stroke-width="0.25" transform="translate(444.60,323.20) rotate(-45)" >10E5</text>
<text x="0.00" y="0.00" font-size="8.0" text-anchor="end" fill="#1a1a1a" font-weight="normal" stroke="#1a1a1a" stroke-width="0.25" transform="translate(473.60,323.20) rotate(-45)" >7E3</text>
<text x="0.00" y="0.00" font-size="8.0" text-anchor="end" fill="#1a1a1a" font-weight="normal" stroke="#1a1a1a" stroke-width="0.25" transform="translate(502.70,323.20) rotate(-45)" >7E9</text>
<line x1="411.60" y1="255.60" x2="411.60" y2="280.40" stroke="#222" stroke-width="1.0" />
<line x1="406.05" y1="255.60" x2="417.15" y2="255.60" stroke="#111" stroke-width="1.0" />
<line x1="406.05" y1="280.40" x2="417.15" y2="280.40" stroke="#111" stroke-width="1.0" />
<line x1="402.10" y1="268.00" x2="421.10" y2="268.00" stroke="#000" stroke-width="1.0" />
<circle cx="411.60" cy="252.40" r="1.75" fill="#183a80"/>
<circle cx="411.60" cy="264.00" r="1.75" fill="#183a80"/>
<circle cx="409.30" cy="278.70" r="1.75" fill="#183a80"/>
<circle cx="414.00" cy="277.60" r="1.75" fill="#183a80"/>
<line x1="402.20" y1="268.00" x2="421.20" y2="268.00" stroke="#000" stroke-width="1.05" />
<rect x="431.40" y="307.30" width="4.2" height="3.0" fill="#3fae1c"/>
<rect x="436.60" y="309.50" width="3.6" height="3.4" fill="#3fae1c"/>
<rect x="440.80" y="307.80" width="3.8" height="3.4" fill="#3fae1c"/>
<rect x="445.90" y="305.40" width="3.4" height="3.6" fill="#3fae1c"/>
<rect x="435.5" y="308.0" width="10.1" height="3.4" fill="#333" fill-opacity="0.6"/>
<line x1="431.20" y1="309.30" x2="449.90" y2="309.30" stroke="#111" stroke-width="1.1" />
<line x1="440.40" y1="307.50" x2="440.40" y2="311.50" stroke="#111" stroke-width="1.0" />
<line x1="464.10" y1="306.60" x2="475.00" y2="306.60" stroke="#9a9a9a" stroke-width="1.5" />
<line x1="464.10" y1="311.40" x2="475.00" y2="311.40" stroke="#444" stroke-width="1.0" />
<polygon points="469.40,305.20 471.10,306.90 469.40,308.60 467.70,306.90" fill="#c8001e"/>
<polygon points="464.70,306.80 466.40,308.50 464.70,310.20 463.00,308.50" fill="#c8001e"/>
<polygon points="474.50,308.90 476.20,310.60 474.50,312.30 472.80,310.60" fill="#c8001e"/>
<polygon points="469.40,311.10 471.10,312.80 469.40,314.50 467.70,312.80" fill="#c8001e"/>
<line x1="469.40" y1="305.50" x2="469.40" y2="313.40" stroke="#111" stroke-width="1.0" />
<line x1="460.00" y1="309.20" x2="479.00" y2="309.20" stroke="#000" stroke-width="1.0" />
<line x1="498.50" y1="241.90" x2="498.50" y2="270.10" stroke="#222" stroke-width="1.0" />
<line x1="493.15" y1="241.90" x2="503.85" y2="241.90" stroke="#111" stroke-width="1.25" />
<line x1="493.15" y1="270.10" x2="503.85" y2="270.10" stroke="#111" stroke-width="1.25" />
<line x1="489.15" y1="256.10" x2="507.85" y2="256.10" stroke="#000" stroke-width="1.0" />
<polygon points="496.10,248.55 494.60,245.55 497.60,245.55" fill="#4b0e6b"/>
<polygon points="500.80,246.75 499.30,243.75 502.30,243.75" fill="#4b0e6b"/>
<polygon points="498.50,255.65 497.00,252.65 500.00,252.65" fill="#4b0e6b"/>
<polygon points="498.50,277.75 497.00,274.75 500.00,274.75" fill="#4b0e6b"/>
<line x1="489.30" y1="256.10" x2="508.00" y2="256.10" stroke="#000" stroke-width="1.05" />
<rect x="0" y="0" width="520" height="1.1" fill="#000"/>
<rect x="0" y="0" width="1.05" height="378" fill="#000"/>
<rect x="518.7" y="0" width="1.3" height="378" fill="#000"/>
<rect x="0" y="376.5" width="520" height="1.5" fill="#000"/>
</svg>
</body></html>
